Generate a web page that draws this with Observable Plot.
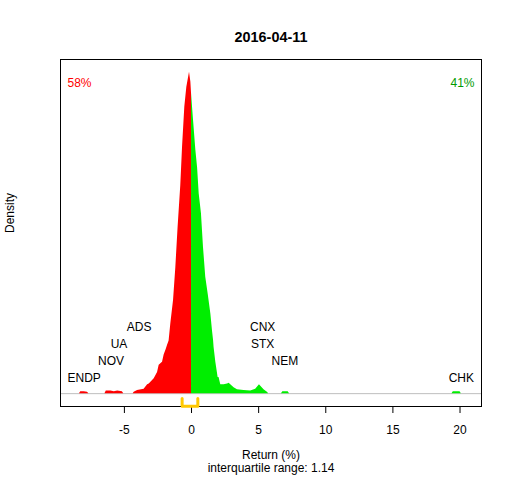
<!DOCTYPE html>
<html><head><meta charset="utf-8">
<script src="https://cdn.jsdelivr.net/npm/d3@7"></script>
<script src="https://cdn.jsdelivr.net/npm/@observablehq/plot@0.6"></script>
<style>
body{margin:0;background:#fff}
svg{font-family:"Liberation Sans",Arial,sans-serif}
</style>
</head><body><div id="chart"></div>
<script>
// Density of daily returns (%)
const returns = [-8.35,-8.25,-8.0,-7.75,-7.65,
  -6.45,-6.35,-6.0,-5.75,-5.5,-5.15,-5.05,
  -4.35,-4.27,-4.02,-3.53,-3.27,-3.15,-2.78,-2.53,-2.41,-2.16,-2.04,-1.9,-1.79,-1.67,-1.54,-1.34,-1.17,-1.0,-0.8,-0.67,-0.5,-0.35,-0.15,-0.05,0,
  0.15,0.32,0.45,0.57,0.74,0.89,1.06,1.24,1.44,1.56,1.64,1.68,1.81,1.98,2.05,2.18,2.43,2.68,2.8,3.17,3.42,3.91,4.41,4.78,5.06,5.4,5.65,5.75,
  6.7,6.8,7.0,7.2,7.3,
  19.4,19.5,19.75,20.0,20.1];
const density = [0,0.003,0.003,0.002,0,
  0,0.004,0.004,0.003,0.004,0.003,0,
  0,0.002,0.005,0.007,0.014,0.015,0.023,0.033,0.044,0.049,0.060,0.068,0.075,0.082,0.109,0.145,0.196,0.259,0.324,0.383,0.446,0.477,0.5,0.485,0.467,
  0.425,0.379,0.352,0.311,0.28,0.228,0.181,0.155,0.124,0.098,0.083,0.072,0.049,0.025,0.025,0.014,0.014,0.015,0.016,0.009,0.006,0.005,0.004,0.007,0.014,0.006,0.002,0,
  0,0.003,0.003,0.003,0,
  0,0.003,0.003,0.003,0];

const tickers = ["ENDP","NOV","UA","ADS","CNX","STX","NEM","CHK"];
const tickerReturns = [-8.0,-6.0,-5.4,-3.9,5.3,5.3,6.95,20.1];
const tickerLevel = [1,2,3,4,4,3,2,1];

const iqr = [-0.70, 0.47];
const iqrLabel = "interquartile range: 1.14";
const shareDown = "58%";
const shareUp = "41%";
const title = "2016-04-11";
const xLabel = "Return (%)";
const yLabel = "Density";
const xTicks = [-5,0,5,10,15,20];

const pts = returns.map((r,i)=>({r, d: density[i]}));
const down = pts.filter(p=>p.r<=0);
const up = pts.filter(p=>p.r>=0);
const labels = tickers.map((t,i)=>({t, r: tickerReturns[i], y: 0.0234 + (tickerLevel[i]-1)*0.0265}));
const bracket = [
  {x: iqr[0], y: -0.0076},{x: iqr[0], y: -0.0195},
  {x: iqr[1], y: -0.0195},{x: iqr[1], y: -0.0076}
];

const chart = Plot.plot({
  width: 512, height: 480,
  marginLeft: 60, marginRight: 31, marginTop: 59, marginBottom: 74,
  style: {fontFamily: '"Liberation Sans", Arial, sans-serif', fontSize: "12px", background: "#fff", overflow: "visible"},
  x: {domain: [-9.76, 21.6]},
  y: {domain: [-0.02, 0.52], axis: null},
  marks: [
    Plot.ruleY([0], {stroke: "#bebebe", strokeWidth: 1}),
    Plot.areaY(down, {x: "r", y: "d", fill: "#ff0000", curve: "linear"}),
    Plot.areaY(up, {x: "r", y: "d", fill: "#00ee00", curve: "linear"}),
    Plot.text(labels, {x: "r", y: "y", text: "t", fill: "#000", fontSize: 12}),
    Plot.frame({stroke: "#000"}),
    Plot.axisX({ticks: xTicks, tickSize: 7, tickPadding: 12, fontSize: 12, tickFormat: d => d < 0 ? "-" + Math.abs(d) : String(d), stroke: "#000", fill: "#000"}),
    Plot.line(bracket, {x: "x", y: "y", stroke: "#ffc800", strokeWidth: 3, strokeLinejoin: "round", strokeLinecap: "round"}),
    Plot.text([title], {frameAnchor: "top", dy: -28, fontWeight: "bold", fontSize: 14.4, fill: "#000"}),
    Plot.text([shareDown], {frameAnchor: "top-left", dx: 7, dy: 19, textAnchor: "start", fill: "#ff0000", fontSize: 12}),
    Plot.text([shareUp], {frameAnchor: "top-right", dx: -7, dy: 19, textAnchor: "end", fill: "#009a00", fontSize: 12}),
    Plot.text([xLabel], {frameAnchor: "bottom", dy: 52, fill: "#000", fontSize: 12}),
    Plot.text([iqrLabel], {frameAnchor: "bottom", dy: 65, fill: "#000", fontSize: 12}),
    Plot.text([yLabel], {frameAnchor: "left", dx: -50, rotate: -90, fill: "#000", fontSize: 12})
  ]
});
document.getElementById("chart").appendChild(chart);
</script>
</body></html>
